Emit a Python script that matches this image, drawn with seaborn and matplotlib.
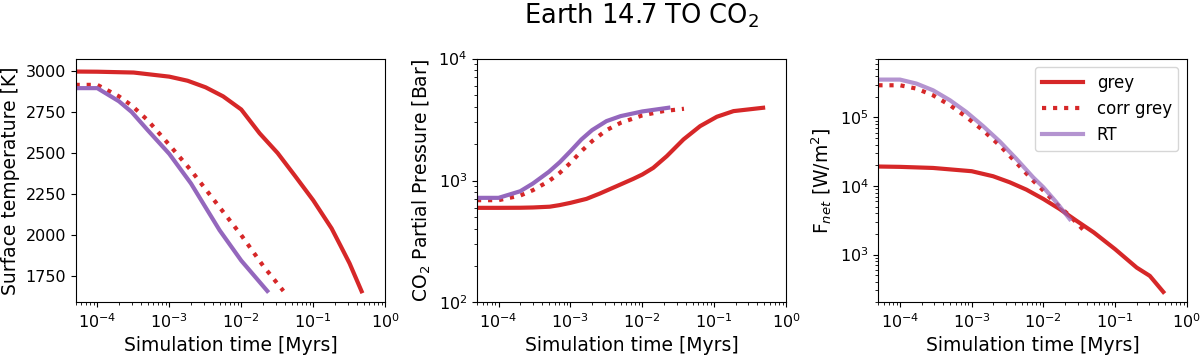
import matplotlib
matplotlib.use("Agg")
import matplotlib.pyplot as plt
import pandas as pd
import seaborn as sns

# ---- surface temperature panel ----
t_T_grey = [5e-5, 1e-4, 3.2e-4, 1e-3, 1.8e-3, 3.2e-3, 5.6e-3, 1e-2, 1.8e-2, 3.2e-2, 5.6e-2, 1e-1, 1.8e-1, 2.4e-1, 3.2e-1, 4.7e-1]
T_grey = [2996, 2995, 2990, 2965, 2940, 2900, 2845, 2765, 2620, 2500, 2360, 2212, 2041, 1935, 1828, 1658]
t_T_corr = [5e-5, 1e-4, 2e-4, 3e-4, 5e-4, 1e-3, 2e-3, 5e-3, 1e-2, 2e-2, 3.85e-2]
T_corr = [2915, 2915, 2845, 2790, 2700, 2550, 2395, 2170, 2000, 1815, 1660]
t_T_rt = [5e-5, 1e-4, 2e-4, 3e-4, 5e-4, 1e-3, 2e-3, 5e-3, 1e-2, 2.3e-2]
T_rt = [2895, 2895, 2815, 2750, 2640, 2495, 2315, 2030, 1845, 1660]

# ---- CO2 partial pressure panel [bar] ----
t_P_grey = [5e-5, 1e-4, 2e-4, 3e-4, 5.15e-4, 7e-4, 1e-3, 1.67e-3, 2.56e-3, 4.38e-3, 7.48e-3, 1e-2, 1.42e-2,
            2.19e-2, 3.74e-2, 6.38e-2, 1.09e-1, 1.86e-1, 4.8e-1]
P_grey = [597, 597, 598, 601, 610, 628, 656, 707, 782, 898, 1032, 1120, 1270, 1584, 2172, 2793, 3333, 3708, 3950]
t_P_corr = [5e-5, 1e-4, 2e-4, 3e-4, 5e-4, 7.1e-4, 1e-3, 1.42e-3, 2e-3, 3.17e-3, 5e-3, 1e-2, 1.96e-2, 3.8e-2]
P_corr = [690, 690, 753, 833, 988, 1156, 1396, 1740, 2103, 2588, 2973, 3420, 3708, 3875]
t_P_rt = [5e-5, 1e-4, 2e-4, 3e-4, 5e-4, 7.1e-4, 1e-3, 1.42e-3, 2e-3, 3.17e-3, 5e-3, 1e-2, 2.3e-2]
P_rt = [721, 721, 817, 945, 1178, 1414, 1740, 2172, 2590, 3070, 3375, 3685, 3950]

# ---- net flux panel [W/m2] ----
t_F_grey = [5e-5, 1e-4, 2.89e-4, 1e-3, 1.99e-3, 3.39e-3, 5.79e-3, 1e-2, 1.69e-2, 2.89e-2, 5.04e-2,
            1e-1, 2e-1, 3.05e-1, 4.7e-1]
F_grey = [19200, 18980, 18300, 16400, 13850, 11310, 8840, 6450, 4600, 3110, 2100, 1197, 645, 488, 285]
t_F_corr = [5e-5, 1e-4, 1.69e-4, 2.89e-4, 4.99e-4, 8.43e-4, 1.44e-3, 2.46e-3, 4.2e-3, 7.17e-3, 1e-2,
            1.52e-2, 2.33e-2, 3.9e-2]
F_corr = [2.938e5, 2.938e5, 2.63e5, 2.099e5, 1.5e5, 1.012e5, 6.46e4, 3.89e4, 2.173e4, 1.197e4, 8551,
          5458, 3681, 2099]
t_F_rt = [5e-5, 1e-4, 1.69e-4, 2.89e-4, 4.99e-4, 8.43e-4, 1.44e-3, 2.46e-3, 4.2e-3, 7.17e-3, 1e-2,
          1.52e-2, 2.33e-2]
F_rt = [3.556e5, 3.556e5, 3.112e5, 2.483e5, 1.774e5, 1.197e5, 7.46e4, 4.457e4, 2.483e4, 1.34e4, 9550,
        5768, 3289]

RED = "#d62728"
PURPLE = "#9467bd"

plt.rcParams["font.family"] = ["DejaVu Sans"]
plt.rcParams["font.size"] = 11

fig = plt.figure(figsize=(12, 3.55), dpi=100)
axes = [fig.add_axes([0.063, 0.148, 0.258, 0.687]),
        fig.add_axes([0.3975, 0.148, 0.2575, 0.687]),
        fig.add_axes([0.732, 0.148, 0.257, 0.687])]

panels = [
    ((t_T_grey, T_grey), (t_T_corr, T_corr), (t_T_rt, T_rt), "Surface temperature [K]", False, (1590, 3075), 1.0),
    ((t_P_grey, P_grey), (t_P_corr, P_corr), (t_P_rt, P_rt), "CO$_2$ Partial Pressure [Bar]", True, (1e2, 1e4), 1.0),
    ((t_F_grey, F_grey), (t_F_corr, F_corr), (t_F_rt, F_rt), "F$_{net}$ [W/m$^2$]", True, (200, 7.2e5), 0.7),
]

for ax, (g, c, r, ylabel, logy, ylim, a_rt) in zip(axes, panels):
    sns.lineplot(x=g[0], y=g[1], ax=ax, color=RED, lw=3, label="grey")
    sns.lineplot(x=c[0], y=c[1], ax=ax, color=RED, lw=3, ls=":", label="corr grey")
    sns.lineplot(x=r[0], y=r[1], ax=ax, color=PURPLE, lw=3, alpha=a_rt, label="RT")
    ax.set_xscale("log")
    if logy:
        ax.set_yscale("log")
    ax.set_xlim(5e-5, 1)
    ax.set_ylim(*ylim)
    ax.set_xticks([1e-4, 1e-3, 1e-2, 1e-1, 1])
    ax.set_xlabel("Simulation time [Myrs]", fontsize=13.5)
    ax.set_ylabel(ylabel, fontsize=13.5)
    ax.tick_params(which="major", labelsize=11.5, length=3.5)
    ax.tick_params(which="minor", length=2)
    if ax is not axes[2]:
        ax.get_legend().remove()

axes[0].set_yticks([1750, 2000, 2250, 2500, 2750, 3000])
axes[2].legend(loc="upper right", fontsize=12, handlelength=2.5)

fig.suptitle("Earth 14.7 TO CO$_2$", fontsize=18.5, x=0.535, y=0.995)
fig.savefig("out.png", dpi=100)
